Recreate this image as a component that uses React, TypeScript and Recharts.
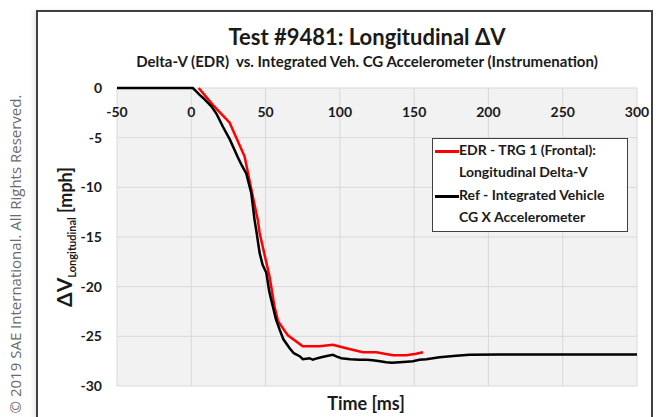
import { LineChart, Line, XAxis, YAxis, CartesianGrid } from "recharts";

type Pt = { t: number; v: number };

const xTicks = [-50, 0, 50, 100, 150, 200, 250, 300];
const yTicks = [0, -5, -10, -15, -20, -25, -30];

// EDR recorded delta-V (mph) vs time (ms)
const edrTime = [5, 14.5, 25.8, 35.9, 40.4, 44.8, 46, 52.7, 56, 58.5, 65, 75, 86.3, 95.3, 104.3, 115.5, 124.5, 135.7, 144.7, 151.4, 155.9];
const edrDv = [0, -1.7, -3.5, -6.9, -10.2, -13.3, -14.6, -19, -22, -23.5, -24.9, -26, -26, -25.85, -26.2, -26.6, -26.6, -26.9, -26.9, -26.75, -26.6];

// integrated CG accelerometer delta-V
const refTime = [-50, 1, 3, 5.6, 8, 13.5, 17, 21.3, 26, 31.4, 34, 37, 40.4, 42.6, 43.7, 46, 48, 50.5, 52.5, 54.9, 57, 59.4, 62, 66.2, 69, 72.9, 75.1, 79.6, 81.8, 85, 87.5, 92, 95.3, 98, 101, 107, 113.3, 118, 122.2, 127, 131.2, 135, 140.2, 145, 149.1, 153.6, 158.2, 167.1, 178.3, 187.3, 207.5, 300];
const refDv = [0, 0, -0.3, -0.7, -1.0, -1.85, -2.6, -3.9, -5.2, -7.0, -7.8, -8.6, -10.6, -13.3, -14.3, -16.6, -17.8, -18.6, -20.5, -22, -23.3, -24.3, -25.3, -26.2, -26.7, -27.0, -27.3, -27.2, -27.36, -27.2, -27.1, -26.95, -26.86, -27.05, -27.2, -27.3, -27.36, -27.35, -27.4, -27.5, -27.6, -27.65, -27.6, -27.55, -27.5, -27.36, -27.3, -27.1, -26.95, -26.86, -26.83, -26.83];

const edrName = ["EDR - TRG 1 (Frontal):", "Longitudinal Delta-V"];
const refName = ["Ref - Integrated Vehicle", "CG X Accelerometer"];

const zip = (ts: number[], vs: number[]): Pt[] => ts.map((t, i) => ({ t, v: vs[i] }));

const FONT = "Lato, 'Open Sans', sans-serif";

const series = [
  { key: "edr", lines: edrName, color: "#ff0000", data: zip(edrTime, edrDv) },
  { key: "ref", lines: refName, color: "#000000", data: zip(refTime, refDv) },
];

const abs = (s: React.CSSProperties): React.CSSProperties => ({ position: "absolute", ...s });

export default function App() {
  return (
    <div style={abs({ left: 0, top: 0, width: 660, height: 417, background: "#fff", overflow: "hidden", fontFamily: FONT })}>
      <div
        style={abs({
          left: 15,
          top: 254,
          transform: "translate(-50%, -50%) rotate(-90deg)",
          whiteSpace: "nowrap",
          fontFamily: "'Open Sans', sans-serif",
          fontSize: 15,
          color: "#6b6b6b",
        })}
      >
        © 2019 SAE International. All Rights Reserved.
      </div>
      <div style={abs({ left: 36, top: 10, width: 617, height: 420, border: "2px solid #404040", boxSizing: "border-box", boxShadow: "-3px 0 4px rgba(0,0,0,0.08)" })} />

      <LineChart width={660} height={417} margin={{ top: 58, right: 23, bottom: 31, left: 57 }} style={{ position: "absolute", left: 0, top: 0 }}>
        <CartesianGrid fill="#f2f2f2" stroke="#d9d9d9" strokeWidth={1} />
        <XAxis
          dataKey="t"
          type="number"
          orientation="top"
          height={30}
          domain={[-50, 300]}
          ticks={xTicks}
          allowDataOverflow
          axisLine={false}
          tickLine={false}
          tickSize={0}
          tickMargin={0}
          tick={(p: any) => (
            <text x={p.x} y={p.y + 23} textAnchor="middle" dominantBaseline="central" fontFamily={FONT} fontWeight={700} fontSize={14} fill="#1a1a1a">
              {p.payload.value}
            </text>
          )}
        />
        <YAxis
          type="number"
          width={60}
          domain={[-30, 0]}
          ticks={yTicks}
          axisLine={false}
          tickLine={false}
          tickSize={0}
          tickMargin={15}
          tick={{ fontFamily: FONT, fontWeight: 700, fontSize: 14, fill: "#1a1a1a" }}
        />
        {series.map(s => (
          <Line
            key={s.key}
            data={s.data}
            dataKey="v"
            name={s.lines.join(" ")}
            type="linear"
            stroke={s.color}
            strokeWidth={2.5}
            dot={false}
            isAnimationActive={false}
          />
        ))}
      </LineChart>

      <div style={abs({ left: 367, top: 36, transform: "translate(-50%, -50%)", whiteSpace: "nowrap", fontSize: 22, fontWeight: 700, color: "#1a1a1a" })}>
        Test #9481: Longitudinal ΔV
      </div>
      <div style={abs({ left: 367, top: 61, transform: "translate(-50%, -50%)", whiteSpace: "pre", fontSize: 15, fontWeight: 700, color: "#1a1a1a" })}>
        {"Delta-V (EDR)  vs. Integrated Veh. CG Accelerometer (Instrumenation)"}
      </div>
      <div style={abs({ left: 63, top: 237, transform: "translate(-50%, -50%) rotate(-90deg)", whiteSpace: "nowrap", fontWeight: 700, color: "#1a1a1a" })}>
        <span style={{ fontSize: 21 }}>ΔV</span>
        <span style={{ fontSize: 11, position: "relative", top: 4 }}>Longitudinal</span>
        <span style={{ fontSize: 18 }}> [mph]</span>
      </div>
      <div style={abs({ left: 366, top: 403, transform: "translate(-50%, -50%)", whiteSpace: "nowrap", fontSize: 18, fontWeight: 700, color: "#1a1a1a" })}>
        Time [ms]
      </div>

      <div style={abs({ left: 432, top: 138, width: 196, height: 94, background: "#fff", border: "1px solid #404040", boxSizing: "border-box", padding: "0 0 0 2px" })}>
        {series.map(s => (
          <div key={s.key} style={{ display: "flex", alignItems: "flex-start", marginBottom: 1 }}>
            <div style={{ width: 24, height: 2.5, background: s.color, marginTop: 11, flex: "none" }} />
            <div style={{ fontSize: 14, fontWeight: 700, lineHeight: "22px", color: "#1a1a1a", whiteSpace: "nowrap" }}>
              {s.lines.map(l => (
                <div key={l}>{l}</div>
              ))}
            </div>
          </div>
        ))}
      </div>
    </div>
  );
}
